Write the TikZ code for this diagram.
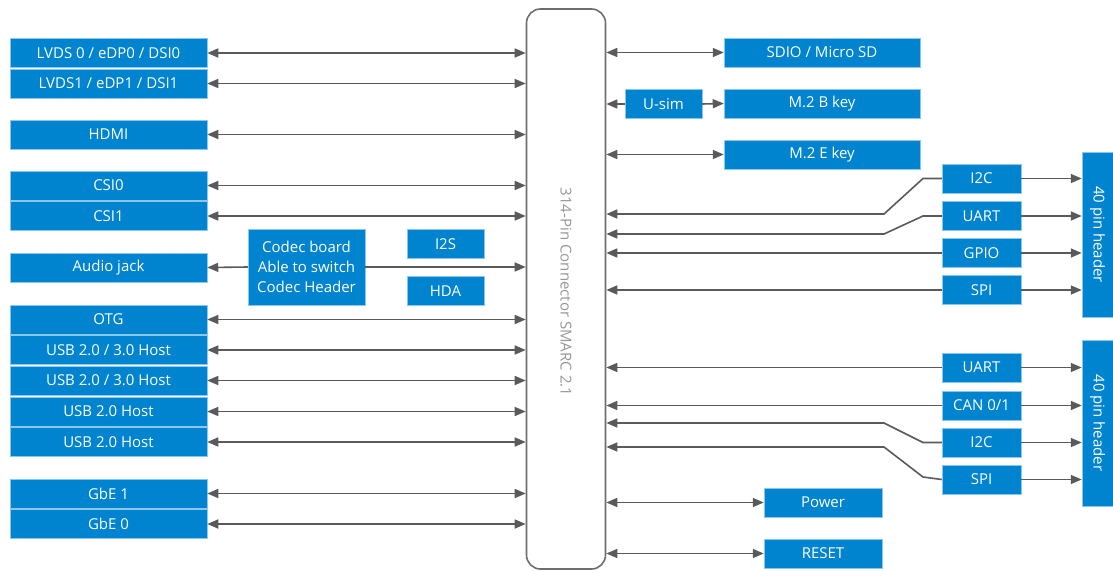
\documentclass[tikz,border=0pt]{standalone}
\usepackage{fontspec}
\setmainfont{Open Sans}
\usetikzlibrary{calc,positioning,arrows.meta}
\definecolor{boxblue}{RGB}{0,132,207}
\definecolor{boxedge}{RGB}{140,200,238}
\definecolor{linegray}{RGB}{90,90,90}
\definecolor{conngray}{RGB}{110,110,110}
\definecolor{conntext}{RGB}{150,150,150}
\begin{document}
\begin{tikzpicture}[x=1pt, y=-1pt,
  blk/.style={fill=boxblue,draw=boxedge,line width=0.5pt,text=white,inner sep=0pt,minimum height=29pt,font=\fontsize{15}{20}\selectfont},
  lblk/.style={blk,minimum width=197pt},
  link/.style={draw=linegray,line width=1.6pt,>={Triangle[length=11pt,width=9pt]}}]
              \useasboundingbox (0,0) rectangle (1113,570);
              % connector
              \node[draw=conngray,line width=1.6pt,rounded corners=14pt,minimum width=79pt,minimum height=560pt] (conn) at (566,289) {};
              \node[rotate=-90,text=conntext,font=\fontsize{15}{18}\selectfont] at (566,292) {314-Pin Connector SMARC 2.1};

              % left side
              \node[lblk] (lvds0) at (108.5,53) {LVDS 0 / eDP0 / DSI0};
              \node[lblk] (lvds1) at (108.5,83.5) {LVDS1 / eDP1 / DSI1};
              \node[lblk] (hdmi) at (108.5,134.5) {HDMI};
              \node[lblk] (csi0) at (108.5,185.5) {CSI0};
              \node[lblk] (csi1) at (108.5,216) {CSI1};
              \node[lblk] (audio) at (108.5,267.5) {Audio jack};
              \node[lblk] (otg) at (108.5,319.5) {OTG};
              \node[lblk] (usb1) at (108.5,350) {USB 2.0 / 3.0 Host};
              \node[lblk] (usb2) at (108.5,380.5) {USB 2.0 / 3.0 Host};
              \node[lblk] (usb3) at (108.5,411.5) {USB 2.0 Host};
              \node[lblk] (usb4) at (108.5,442) {USB 2.0 Host};
              \node[lblk] (gbe1) at (108.5,493.5) {GbE 1};
              \node[lblk] (gbe0) at (108.5,524) {GbE 0};

              \node[blk,minimum width=117pt,minimum height=76pt,align=center] (codec) at (306.5,267) {Codec board\\Able to switch\\Codec Header};
              \node[blk,minimum width=77pt] (i2s) at (445.5,244) {I2S};
              \node[blk,minimum width=77pt] (hda) at (445.5,291) {HDA};

              \foreach \n in {lvds0,lvds1,hdmi,csi0,csi1,otg,usb1,usb2,usb3,usb4,gbe1,gbe0}
                \draw[link,<->] (\n.east) -- (\n.east -| conn.west);
              \draw[link,->] (codec.west) -- (audio.east);
              \draw[link,->] (codec.east) -- (codec.east -| conn.west);

              % right side
              \node[blk,minimum width=196pt] (sdio) at (822,52.5) {SDIO / Micro SD};
              \node[blk,minimum width=77pt] (usim) at (663.5,104) {U-sim};
              \node[blk,minimum width=196pt] (m2b) at (822,103.5) {M.2 B key};
              \node[blk,minimum width=196pt] (m2e) at (822,154.5) {M.2 E key};
              \draw[link,<->] (sdio.west -| conn.east) -- (sdio.west);
              \draw[link,<->] (m2e.west -| conn.east) -- (m2e.west);
              \draw[link,->] (usim.west) -- (usim.west -| conn.east);
              \draw[link,->] (usim.east) -- (m2b.west);

              \node[blk,rotate=-90,minimum width=165pt,minimum height=31pt] (hdra) at (1097.5,234.5) {40 pin header};
              \node[blk,rotate=-90,minimum width=166pt,minimum height=31pt] (hdrb) at (1097.5,423) {40 pin header};

              \node[blk,minimum width=79pt] (i2ca) at (981.5,178.5) {I2C};
              \node[blk,minimum width=79pt] (uarta) at (981.5,216) {UART};
              \node[blk,minimum width=79pt] (gpio) at (981.5,253) {GPIO};
              \node[blk,minimum width=79pt] (spia) at (981.5,290) {SPI};
              \node[blk,minimum width=79pt] (uartb) at (981.5,367.5) {UART};
              \node[blk,minimum width=79pt] (can) at (981.5,405.5) {CAN 0/1};
              \node[blk,minimum width=79pt] (i2cb) at (981.5,442.5) {I2C};
              \node[blk,minimum width=79pt] (spib) at (981.5,479.5) {SPI};

              \foreach \n in {i2ca,uarta,gpio,spia}
                \draw[link,->] (\n.east) -- (\n.east -| hdra.south);
              \foreach \n in {uartb,can,i2cb,spib}
                \draw[link,->] (\n.east) -- (\n.east -| hdrb.south);

              \draw[link,<-] (conn.east |- 0,214) -- (884,214) -- (923,178.5) -- (i2ca.west);
              \draw[link,<-] (conn.east |- 0,234) -- (884,234) -- (923,216) -- (uarta.west);
              \draw[link,<-] (gpio.west -| conn.east) -- (gpio.west);
              \draw[link,<-] (spia.west -| conn.east) -- (spia.west);
              \draw[link,<-] (uartb.west -| conn.east) -- (uartb.west);
              \draw[link,<-] (can.west -| conn.east) -- (can.west);
              \draw[link,<-] (conn.east |- 0,423) -- (884,423) -- (923,442.5) -- (i2cb.west);
              \draw[link,<-] (conn.east |- 0,447) -- (884,447) -- (923,477) -- (spib.west);

              \node[blk,minimum width=118pt] (power) at (823,502.5) {Power};
              \node[blk,minimum width=118pt] (reset) at (823,553.5) {RESET};
              \draw[link,<->] (power.west -| conn.east) -- (power.west);
              \draw[link,<->] (reset.west -| conn.east) -- (reset.west);
            \end{tikzpicture}
\end{document}
